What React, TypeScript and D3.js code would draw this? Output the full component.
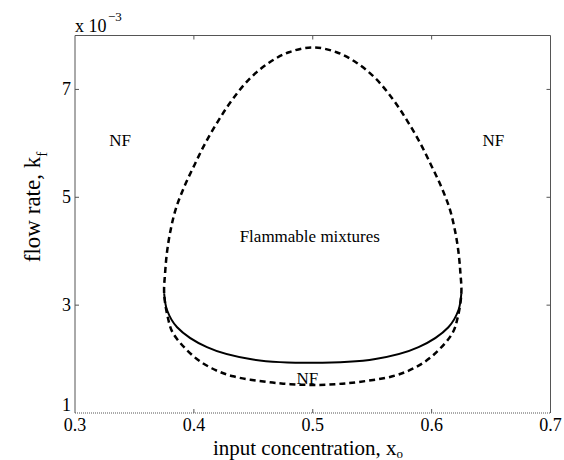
import React from "react";
import * as d3 from "d3";

const W = 564;
const H = 460;

// Dashed boundary (closed loop), x = input concentration, y = flow rate (x 1e-3)
const dashedX = [0.375, 0.3758, 0.3775, 0.3805, 0.385, 0.392, 0.4005, 0.4095, 0.420, 0.432, 0.447, 0.4635, 0.480, 0.5, 0.520, 0.5365, 0.553, 0.568, 0.580, 0.5905, 0.5995, 0.608, 0.615, 0.6195, 0.6225, 0.6242, 0.625, 0.622, 0.6175, 0.6007, 0.585, 0.567, 0.5384, 0.519, 0.5, 0.481, 0.4616, 0.433, 0.415, 0.3993, 0.3825, 0.378];
const dashedY = [3.22, 3.6, 4.0, 4.4, 4.8, 5.2, 5.6, 6.0, 6.4, 6.8, 7.2, 7.5, 7.69, 7.78, 7.69, 7.5, 7.2, 6.8, 6.4, 6.0, 5.6, 5.2, 4.8, 4.4, 4.0, 3.6, 3.22, 2.78, 2.48, 2.06, 1.83, 1.68, 1.575, 1.535, 1.52, 1.535, 1.575, 1.68, 1.83, 2.06, 2.48, 2.78];

// Solid boundary (open)
const solidX = [0.375, 0.3774, 0.3859, 0.411, 0.4473, 0.5, 0.5527, 0.589, 0.6141, 0.6226, 0.625];
const solidY = [3.22, 2.91, 2.59, 2.22, 2.0, 1.93, 2.0, 2.22, 2.59, 2.91, 3.22];

const xTicks = [0.3, 0.4, 0.5, 0.6, 0.7];
const yTicks = [1, 3, 5, 7];

const labels = [
  { text: "NF", x: 0.338, y: 5.95 },
  { text: "NF", x: 0.652, y: 5.95 },
  { text: "NF", x: 0.4955, y: 1.53 },
  { text: "Flammable mixtures", x: 0.4975, y: 4.17 },
];

const font = "'Liberation Serif', 'Times New Roman', Times, serif";

export default function App() {
  const x = d3.scaleLinear().domain([0.3, 0.7]).range([75, 550.5]);
  const y = d3.scaleLinear().domain([1, 8]).range([413, 35.5]);

  const dashedPts: [number, number][] = dashedX.map((v, i) => [x(v), y(dashedY[i])]);
  const solidPts: [number, number][] = solidX.map((v, i) => [x(v), y(solidY[i])]);

  const closedLine = d3.line().curve(d3.curveCatmullRomClosed.alpha(0.5));
  const openLine = d3.line().curve(d3.curveCatmullRom.alpha(0.5));

  const axisColor = "#555";
  const x0 = x(0.3), x1 = x(0.7), y0 = y(1), y1 = y(8);
  const tl = 4;
  const ts = { fontFamily: font };

  return (
    <svg width={W} height={H} style={{ position: "absolute", left: 0, top: 0, background: "#fff" }}>
      {/* axes box */}
      <line x1={x0} y1={y1} x2={x1} y2={y1} stroke={axisColor} strokeWidth={1} />
      <line x1={x0} y1={y1} x2={x0} y2={y0} stroke={axisColor} strokeWidth={1} />
      <line x1={x1} y1={y1} x2={x1} y2={y0} stroke={axisColor} strokeWidth={1} />
      <line x1={x0} y1={y0} x2={x1} y2={y0} stroke={axisColor} strokeWidth={1} strokeDasharray="1,1" />
      {/* ticks */}
      {xTicks.slice(1, -1).map((t) => (
        <g key={"xt" + t}>
          <line x1={x(t)} x2={x(t)} y1={y1} y2={y1 + tl} stroke={axisColor} />
          <line x1={x(t)} x2={x(t)} y1={y0} y2={y0 - tl} stroke={axisColor} />
        </g>
      ))}
      {yTicks.slice(1).map((t) => (
        <g key={"yt" + t}>
          <line x1={x0} x2={x0 + tl} y1={y(t)} y2={y(t)} stroke={axisColor} />
          <line x1={x1} x2={x1 - tl} y1={y(t)} y2={y(t)} stroke={axisColor} />
        </g>
      ))}
      {/* tick labels */}
      {xTicks.map((t) => (
        <text key={"xl" + t} x={x(t)} y={431} textAnchor="middle" fontSize={18} fill="#000" style={ts}>
          {t.toFixed(1)}
        </text>
      ))}
      {yTicks.map((t) => (
        <text key={"yl" + t} x={71} y={t === 1 ? y(t) - 2 : y(t) + 6} textAnchor="end" fontSize={18} fill="#000" style={ts}>
          {t}
        </text>
      ))}
      {/* exponent */}
      <text x={75} y={32} fontSize={18} fill="#000" style={ts}>
        x 10
      </text>
      <text x={108} y={21} fontSize={13} fill="#000" style={ts}>
        −3
      </text>
      {/* curves */}
      <path d={closedLine(dashedPts) || ""} fill="none" stroke="#000" strokeWidth={2.5} strokeDasharray="6,4" />
      <path d={openLine(solidPts) || ""} fill="none" stroke="#000" strokeWidth={2} />
      {/* annotations */}
      {labels.map((l, i) => (
        <text key={"lab" + i} x={x(l.x)} y={y(l.y)} textAnchor="middle" fontSize={17} fill="#000" style={ts}>
          {l.text}
        </text>
      ))}
      {/* axis labels */}
      <text x={308} y={455} textAnchor="middle" fontSize={21} fill="#000" style={ts}>
        input concentration, x<tspan dy={3} fontSize={13}>o</tspan>
      </text>
      <text transform="translate(40,207) rotate(-90)" textAnchor="middle" fontSize={23} fill="#000" style={ts}>
        flow rate, k<tspan dy={7} fontSize={15}>f</tspan>
      </text>
    </svg>
  );
}
